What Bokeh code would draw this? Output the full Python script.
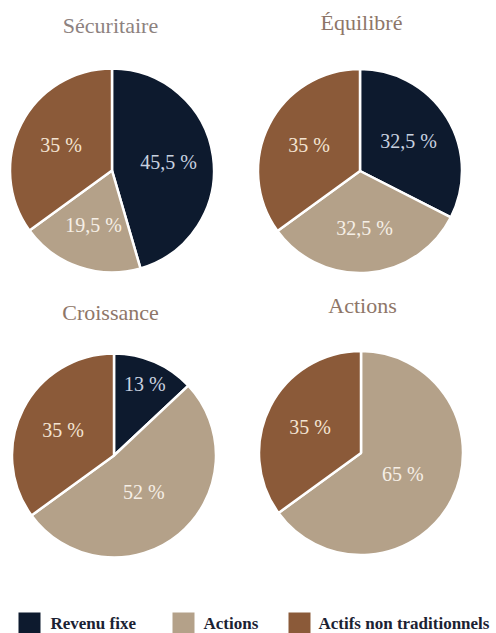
import math
from bokeh.plotting import figure
from bokeh.models import Range1d, ColumnDataSource
from bokeh.core.properties import value
from bokeh.embed import file_html
from bokeh.resources import INLINE

# ---- data ----
titles = ["Sécuritaire", "Équilibré", "Croissance", "Actions"]
categories = ["Revenu fixe", "Actions", "Actifs non traditionnels"]
revenu_fixe = [45.5, 32.5, 13, 0]
actions = [19.5, 32.5, 52, 65]
actifs_non_traditionnels = [35, 35, 35, 35]

# ---- style ----
colors = ["#0d1a2e", "#b4a189", "#8b5a39"]
label_colors = ["#c9d2e0", "#f6efe6", "#f4e4d2"]
title_colors = ["#8d8280", "#8e7668", "#8e7668", "#8e7668"]
legend_text_color = "#1b2233"
FONT = "Liberation Serif"

# layout (page pixel coordinates)
centers = [(111.5, 170), (359.5, 170.5), (113.5, 455), (360.5, 452.5)]
title_pos = [(110, 25), (361, 22), (110, 312), (362, 305)]
R = 102
legend_sq_x = [18, 172, 288]
legend_tx_x = [50, 203, 318]
legend_y = 623

PW, PH = 496, 633


def Y(py):
    return PH - py


def fmt(v):
    if float(v).is_integer():
        return f"{int(v)} %"
    return f"{v}".replace(".", ",") + " %"


p = figure(width=PW, height=PH, x_range=Range1d(0, PW), y_range=Range1d(0, PH),
           output_backend="svg", toolbar_location=None, min_border=0,
           x_axis_location=None, y_axis_location=None)
p.grid.visible = False
p.outline_line_color = None
p.background_fill_color = "white"

for k in range(4):
    vals = [revenu_fixe[k], actions[k], actifs_non_traditionnels[k]]
    total = sum(vals)
    cx, cy = centers[k][0], Y(centers[k][1])
    starts, ends, cols, lx, ly, lt, lc = [], [], [], [], [], [], []
    cum = 0.0
    for i, v in enumerate(vals):
        if v <= 0:
            continue
        s = math.pi / 2 - 2 * math.pi * cum / total
        e = math.pi / 2 - 2 * math.pi * (cum + v) / total
        starts.append(s)
        ends.append(e)
        cols.append(colors[i])
        mid = (s + e) / 2
        share = v / total
        f = 0.76 if share < 0.15 else (0.46 if share > 0.5 else 0.56)
        lx.append(cx + f * R * math.cos(mid))
        ly.append(cy + f * R * math.sin(mid))
        lt.append(fmt(v))
        lc.append(label_colors[i])
        cum += v
    src = ColumnDataSource(dict(start=starts, end=ends, color=cols))
    p.wedge(x=cx, y=cy, radius=R, start_angle="start", end_angle="end",
            direction="clock", fill_color="color", line_color="white",
            line_width=2.5, source=src)
    lsrc = ColumnDataSource(dict(x=lx, y=ly, text=lt, color=lc))
    p.text(x="x", y="y", text="text", text_color="color", source=lsrc,
           text_align="center", text_baseline="middle",
           text_font=value(FONT), text_font_size="20px")
    p.text(x=[title_pos[k][0]], y=[Y(title_pos[k][1])], text=[titles[k]],
           text_align="center", text_baseline="middle", text_color=title_colors[k],
           text_font=value(FONT), text_font_size="22px")

# legend
for i, cat in enumerate(categories):
    p.rect(x=[legend_sq_x[i] + 11], y=[Y(legend_y)], width=22, height=22,
           fill_color=colors[i], line_color=None)
    p.text(x=[legend_tx_x[i]], y=[Y(legend_y)], text=[cat],
           text_align="left", text_baseline="middle", text_color=legend_text_color,
           text_font=value(FONT), text_font_size="17px", text_font_style="bold")

open("out.html", "w").write(file_html(p, INLINE))
